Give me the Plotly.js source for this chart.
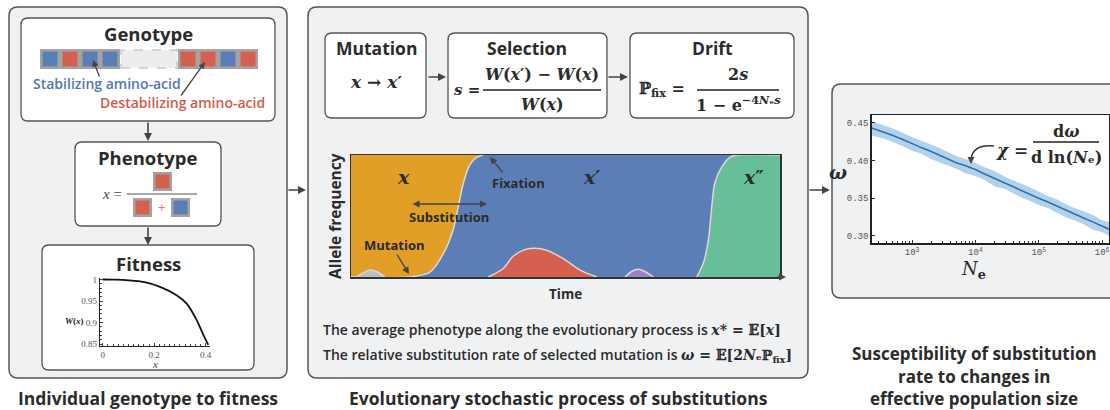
<!DOCTYPE html>
<html><head><meta charset="utf-8">
<script src="https://cdn.plot.ly/plotly-3.0.1.min.js"></script>
<style>html,body{margin:0;padding:0;background:#fff}#chart{width:1110px;height:410px}</style>
</head><body><div id="chart"></div>
<script>
// ---------------- data ----------------
// Fitness landscape W(x)
const fitnessX = [0, 0.05, 0.1, 0.158, 0.2225, 0.287, 0.326, 0.365, 0.391, 0.41];
const fitnessW = [1, 0.9995, 0.998, 0.9944, 0.983, 0.9636, 0.944, 0.9056, 0.871, 0.848];

// Allele frequency trajectories (time in arbitrary units 0..100)
const timeXprime = [0, 13.75, 18.4, 21.5, 23.8, 25.0, 26.2, 27.7, 29.3, 30.8];
const freqXprime = [0, 0, 0.04, 0.19, 0.385, 0.576, 0.77, 0.92, 0.98, 1.0];
const timeTop = [0, 30.8];
const freqTop = [1, 1];
const timeGray = [1.3, 2.9, 4.4, 6.0, 7.9];
const freqGray = [0, 0.035, 0.057, 0.043, 0];
const timeRed = [32.0, 35.5, 37.8, 40.2, 42.5, 45.6, 49.5, 53.4, 57.3];
const freqRed = [0, 0.07, 0.17, 0.22, 0.235, 0.22, 0.15, 0.057, 0];
const timePurple = [63.9, 65.4, 67.0, 68.5, 70.5];
const freqPurple = [0, 0.045, 0.063, 0.045, 0];
const timeGreen = [80.6, 82.1, 83.3, 84.1, 84.8, 86.4, 88.3, 89.9, 100];
const freqGreen = [0, 0.11, 0.30, 0.58, 0.77, 0.90, 0.98, 1.0, 1.0];

// omega vs effective population size
const Ne = [231, 350, 500, 700, 1000, 1400, 2000, 3000, 5000, 7000, 10000, 14000, 20000, 30000, 50000, 70000, 100000, 140000, 200000, 300000, 500000, 700000, 1000000, 1290000];
const omega = [0.443, 0.438, 0.433, 0.428, 0.422, 0.417, 0.412, 0.405, 0.397, 0.393, 0.388, 0.382, 0.376, 0.370, 0.361, 0.356, 0.350, 0.345, 0.339, 0.332, 0.324, 0.319, 0.313, 0.309];
const omegaLow = [0.433, 0.429, 0.424, 0.419, 0.413, 0.409, 0.402, 0.396, 0.389, 0.383, 0.379, 0.374, 0.366, 0.362, 0.352, 0.347, 0.341, 0.337, 0.330, 0.323, 0.316, 0.309, 0.305, 0.300];
const omegaHigh = [0.452, 0.447, 0.442, 0.437, 0.431, 0.426, 0.421, 0.415, 0.406, 0.402, 0.397, 0.391, 0.386, 0.378, 0.370, 0.365, 0.359, 0.353, 0.348, 0.340, 0.333, 0.328, 0.321, 0.318];
const omegaTicks = [1000, 10000, 100000, 1000000];
const omegaTickText = ['10<sup>3</sup>', '10<sup>4</sup>', '10<sup>5</sup>', '10<sup>6</sup>'];

// ---------------- helpers ----------------
const W = 1110, H = 410;
const X = v => v / W, Y = v => 1 - v / H;
const BLUE = '#5b7eb6', RED = '#d6604f', ORANGE = '#e29f27', GREEN = '#66bf98', PURPLE = '#9b82c2', GRAYB = '#bdbdbd';
const SANS = 'Open Sans', SERIF = 'DejaVu Serif';

function rr(x0, y0, x1, y1, r, fill, lw) {
  const p = `M ${X(x0 + r)},${Y(y0)} L ${X(x1 - r)},${Y(y0)} Q ${X(x1)},${Y(y0)} ${X(x1)},${Y(y0 + r)} ` +
    `L ${X(x1)},${Y(y1 - r)} Q ${X(x1)},${Y(y1)} ${X(x1 - r)},${Y(y1)} L ${X(x0 + r)},${Y(y1)} ` +
    `Q ${X(x0)},${Y(y1)} ${X(x0)},${Y(y1 - r)} L ${X(x0)},${Y(y0 + r)} Q ${X(x0)},${Y(y0)} ${X(x0 + r)},${Y(y0)} Z`;
  return {type: 'path', xref: 'paper', yref: 'paper', path: p, fillcolor: fill, line: {color: '#555', width: lw || 1.5}, layer: 'below'};
}
function rect(x0, y0, x1, y1, fill, line) {
  return {type: 'rect', xref: 'paper', yref: 'paper', x0: X(x0), x1: X(x1), y0: Y(y1), y1: Y(y0),
    fillcolor: fill, line: line || {width: 0}, layer: 'below'};
}
function hline(x0, x1, y, color, w) {
  return {type: 'line', xref: 'paper', yref: 'paper', x0: X(x0), x1: X(x1), y0: Y(y), y1: Y(y),
    line: {color: color || '#333', width: w || 1.2}, layer: 'above'};
}
function sq(x0, y0, s, color) { // gray-framed coloured square
  return [rect(x0, y0, x0 + s, y0 + s, '#a3a3a3'), rect(x0 + 2.5, y0 + 2.5, x0 + s - 2.5, y0 + s - 2.5, color)];
}
function T(text, x, y, size, o) {
  o = o || {};
  return {text: text, x: X(x), y: Y(y), xref: 'paper', yref: 'paper', showarrow: false,
    xanchor: o.xanchor || 'center', yanchor: 'middle', textangle: o.angle || 0,
    font: {family: o.family || SANS, size: size, color: o.color || '#2b2b2b', weight: o.weight || 700}};
}
function AR(x0, y0, x1, y1, o) {
  o = o || {};
  return Object.assign({text: '', x: X(x1), y: Y(y1), xref: 'paper', yref: 'paper', ax: x0 - x1, ay: y0 - y1,
    axref: 'pixel', ayref: 'pixel', showarrow: true, arrowhead: 2, arrowsize: 1, arrowwidth: 1.6,
    arrowcolor: '#444', standoff: 0, startstandoff: 0}, o);
}

// ---------------- shapes ----------------
const shapes = [];
shapes.push(rr(9, 7, 287, 378, 9, '#f0f1f3'));
shapes.push(rr(308, 7, 808, 378, 9, '#f0f1f3'));
shapes.push(rr(832, 84, 1130, 298, 9, '#f0f1f3'));
shapes.push(rr(21, 18, 275, 121, 7, '#ffffff', 1.3));
shapes.push(rr(75, 142, 221, 226, 7, '#ffffff', 1.3));
shapes.push(rr(42, 245, 254, 370, 7, '#ffffff', 1.3));
shapes.push(rr(325, 33, 426, 118, 7, '#ffffff', 1.3));
shapes.push(rr(448, 33, 607, 118, 7, '#ffffff', 1.3));
shapes.push(rr(630, 33, 794, 118, 7, '#ffffff', 1.3));
// plot backgrounds
shapes.push(rect(871.7, 115, 1109, 243, '#ffffff'));
shapes.push(rect(351, 155, 780, 277, BLUE));
// genotype sequence
const seqLeft = [BLUE, RED, BLUE, BLUE], seqRight = [RED, RED, BLUE, RED];
seqLeft.forEach((c, i) => shapes.push(...sq(40 + i * 20, 49, 20, c)));
shapes.push(rect(121, 50, 177, 68, '#ededed', {color: '#c9c9c9', width: 1.5, dash: 'dash'}));
seqRight.forEach((c, i) => shapes.push(...sq(178 + i * 20, 49, 20, c)));
// phenotype fraction
shapes.push(...sq(153, 172, 19, RED));
shapes.push(...sq(133, 198, 19, RED));
shapes.push(...sq(171, 198, 19, BLUE));
shapes.push(hline(127, 197, 194, '#555', 1));
// formula fraction lines
shapes.push(hline(483, 601, 90, '#222', 1.3));
shapes.push(hline(697, 779, 90, '#222', 1.3));
shapes.push(hline(1033, 1099, 142, '#222', 1.3));
// chi curved arrow
shapes.push({type: 'path', xref: 'paper', yref: 'paper', layer: 'above',
  path: `M ${X(994)},${Y(146)} Q ${X(973)},${Y(144)} ${X(971)},${Y(159)}`, line: {color: '#333', width: 1.4}});

// ---------------- annotations ----------------
const ann = [];
// panel titles
ann.push(T('Individual genotype to fitness', 148, 398, 17.5));
ann.push(T('Evolutionary stochastic process of substitutions', 558, 398, 17.5));
ann.push(T('Susceptibility of substitution', 974, 353, 17));
ann.push(T('rate to changes in', 974, 376, 17));
ann.push(T('effective population size', 974, 398, 17));
// left panel
ann.push(T('Genotype', 148, 34, 18.5));
ann.push(T('Stabilizing amino-acid', 107, 84, 14, {color: '#5077b6', weight: 600}));
ann.push(T('Destabilizing amino-acid', 182, 102, 14, {color: '#d45a4b', weight: 600}));
ann.push(T('Phenotype', 148, 157, 18.5));
ann.push(T('<i>x</i> =', 112, 194, 15, {family: 'Liberation Serif', weight: 400, color: '#444'}));
ann.push(T('+', 161, 207, 13, {color: '#e07a6c', weight: 400}));
ann.push(T('Fitness', 148, 263, 18.5));
ann.push(T('<b><i>W</i>(<i>x</i>)</b>', 74, 321, 9, {family: 'Liberation Serif', weight: 700, color: '#222'}));
ann.push(T('<i>x</i>', 155, 364, 11, {family: 'Liberation Serif', weight: 400, color: '#444'}));
// center top boxes
ann.push(T('Mutation', 376, 48, 17.5));
ann.push(T('<b><i>x</i> → <i>x</i>′</b>', 376, 82, 17, {family: SERIF}));
ann.push(T('Selection', 527, 48, 17.5));
ann.push(T('<b><i>s</i> =</b>', 467, 90, 15, {family: SERIF}));
ann.push(T('<b><i>W</i>(<i>x</i>′) − <i>W</i>(<i>x</i>)</b>', 542, 75, 16, {family: SERIF}));
ann.push(T('<b><i>W</i>(<i>x</i>)</b>', 542, 104, 16, {family: SERIF}));
ann.push(T('Drift', 712, 48, 17.5));
ann.push(T('<b>ℙ</b><sub><b>fix</b></sub><b> =</b>', 662, 90, 16, {family: SERIF}));
ann.push(T('<b>2<i>s</i></b>', 738, 75, 16, {family: SERIF}));
ann.push(T('<b>1 − e<sup>−4<i>N</i>ₑ<i>s</i></sup></b>', 738, 104, 16, {family: SERIF}));
// allele plot labels
ann.push(T('<b><i>x</i></b>', 403, 177, 19, {family: SERIF}));
ann.push(T('<b><i>x</i>′</b>', 591, 177, 19, {family: SERIF}));
ann.push(T('<b><i>x</i>″</b>', 753, 177, 19, {family: SERIF}));
ann.push(T('Fixation', 518, 183, 13));
ann.push(T('Substitution', 449, 217, 13));
ann.push(T('Mutation', 394, 245, 13));
ann.push(T('Allele frequency', 335, 216, 15.5, {angle: -90}));
ann.push(T('Time', 565, 294, 13.5));
// bottom text lines
ann.push(T('The average phenotype along the evolutionary process is <span style="font-family:DejaVu Serif"><b><i>x</i>* = 𝔼[<i>x</i>]</b></span>', 321, 329, 14, {xanchor: 'left', weight: 600}));
ann.push(T('The relative substitution rate of selected mutation is <span style="font-family:DejaVu Serif"><b><i>ω</i> = 𝔼[2<i>N</i>ₑℙ<sub>fix</sub>]</b></span>', 321, 355, 14, {xanchor: 'left', weight: 600}));
// right plot labels
ann.push(T('<b><i>ω</i></b>', 838, 172, 19, {family: SERIF}));
ann.push(T('<i>N</i><sub><b>e</b></sub>', 973, 270, 18, {family: SERIF, weight: 400}));
ann.push(T('<b><i>χ</i> =</b>', 1012, 150, 17, {family: SERIF}));
ann.push(T('<b>d<i>ω</i></b>', 1066, 131, 16, {family: SERIF}));
ann.push(T('<b>d ln(<i>N</i>ₑ)</b>', 1066, 157, 16, {family: SERIF}));
// arrows
ann.push(AR(287, 190, 306, 190));
ann.push(AR(808, 190, 830, 190));
ann.push(AR(148, 121, 148, 141));
ann.push(AR(148, 226, 148, 245));
ann.push(AR(100, 78, 93, 60, {arrowwidth: 1.3}));
ann.push(AR(180, 97, 205, 62, {arrowwidth: 1.3}));
ann.push(AR(427, 77, 446, 77));
ann.push(AR(607, 77, 628, 77));
ann.push(AR(504, 174, 490, 157, {arrowwidth: 1.4}));
ann.push(AR(396, 253, 409, 274, {arrowwidth: 1.4}));
ann.push(AR(411, 204, 487, 204, {arrowside: 'end+start', arrowwidth: 1.4}));
ann.push(AR(776, 277, 786, 277, {arrowwidth: 1.4}));
ann.push(AR(971, 157, 971, 164, {arrowwidth: 1.4}));

// ---------------- traces ----------------
const edge = {color: '#d9d9d9', width: 1.5, shape: 'spline', smoothing: 0.8};
const traces = [
  {x: fitnessX, y: fitnessW, xaxis: 'x', yaxis: 'y', mode: 'lines', line: {color: '#111', width: 1.8, shape: 'spline'}},
  // allele frequency areas
  {x: timeTop, y: freqTop, xaxis: 'x2', yaxis: 'y2', mode: 'lines', line: {width: 0}},
  {x: timeXprime, y: freqXprime, xaxis: 'x2', yaxis: 'y2', mode: 'lines', fill: 'tonexty', fillcolor: ORANGE, line: edge},
  {x: timeGray, y: freqGray, xaxis: 'x2', yaxis: 'y2', mode: 'lines', fill: 'tozeroy', fillcolor: GRAYB, line: edge},
  {x: timeRed, y: freqRed, xaxis: 'x2', yaxis: 'y2', mode: 'lines', fill: 'tozeroy', fillcolor: RED, line: edge},
  {x: timePurple, y: freqPurple, xaxis: 'x2', yaxis: 'y2', mode: 'lines', fill: 'tozeroy', fillcolor: PURPLE, line: edge},
  {x: timeGreen, y: freqGreen, xaxis: 'x2', yaxis: 'y2', mode: 'lines', fill: 'tozeroy', fillcolor: GREEN, line: edge},
  // omega band and line
  {x: Ne, y: omegaLow, xaxis: 'x3', yaxis: 'y3', mode: 'lines', line: {width: 0, shape: 'spline'}},
  {x: Ne, y: omegaHigh, xaxis: 'x3', yaxis: 'y3', mode: 'lines', fill: 'tonexty', fillcolor: '#b3d2ea', line: {width: 0, shape: 'spline'}},
  {x: Ne, y: omega, xaxis: 'x3', yaxis: 'y3', mode: 'lines', line: {color: '#2c70b4', width: 1.6}}
];

const serifTick = {family: 'Liberation Serif', size: 9, color: '#555'};
const monoTick = {family: 'Liberation Mono', size: 9, color: '#555'};
const layout = {
  width: W, height: H, margin: {l: 0, r: 0, t: 0, b: 0},
  paper_bgcolor: '#ffffff', plot_bgcolor: '#ffffff', showlegend: false, hovermode: false,
  font: {family: SANS},
  xaxis: {domain: [X(100), X(210)], range: [-0.0105, 0.4167], anchor: 'y', tickvals: [0, 0.2, 0.4], ticktext: ['0', '0.2', '0.4'],
    ticks: 'inside', ticklen: 3, tickcolor: '#444', showline: true, linecolor: '#222', linewidth: 1.3, showgrid: false, zeroline: false,
    tickfont: serifTick, minor: {ticks: 'inside', ticklen: 2, dtick: 0.02, tickcolor: '#444'}},
  yaxis: {domain: [Y(346), Y(278)], range: [0.8454, 1.0035], anchor: 'x', tickvals: [0.85, 0.9, 0.95, 1], ticktext: ['0.85', '0.9', '0.95', '1'],
    ticks: 'inside', ticklen: 3, tickcolor: '#444', showline: true, linecolor: '#222', linewidth: 1.3, showgrid: false, zeroline: false,
    tickfont: serifTick, minor: {ticks: 'inside', ticklen: 2, dtick: 0.01, tickcolor: '#444'}},
  xaxis2: {domain: [X(351), X(780)], range: [0, 100], anchor: 'y2', showticklabels: false, ticks: '', showgrid: false, zeroline: false,
    showline: true, mirror: true, linecolor: '#333', linewidth: 1.5},
  yaxis2: {domain: [Y(277), Y(155)], range: [0, 1], anchor: 'x2', showticklabels: false, ticks: '', showgrid: false, zeroline: false,
    showline: true, mirror: true, linecolor: '#333', linewidth: 1.5},
  xaxis3: {domain: [X(871.7), X(1109)], type: 'log', range: [2.363, 6.11], anchor: 'y3', tickvals: omegaTicks, ticktext: omegaTickText,
    ticks: 'inside', ticklen: 3, tickcolor: '#333', showline: true, mirror: true, linecolor: '#222', linewidth: 1.5, showgrid: false, zeroline: false,
    tickfont: monoTick, minor: {ticks: 'inside', ticklen: 2, dtick: 'D1', tickcolor: '#333'}},
  yaxis3: {domain: [Y(243), Y(115)], range: [0.2907, 0.4602], anchor: 'x3', tickvals: [0.30, 0.35, 0.40, 0.45], ticktext: ['0.30', '0.35', '0.40', '0.45'],
    ticks: 'inside', ticklen: 3, tickcolor: '#333', showline: true, mirror: true, linecolor: '#222', linewidth: 1.5, showgrid: false, zeroline: false,
    tickfont: monoTick},
  shapes: shapes,
  annotations: ann
};
Plotly.newPlot('chart', traces, layout, {staticPlot: true, displayModeBar: false});
</script></body></html>
